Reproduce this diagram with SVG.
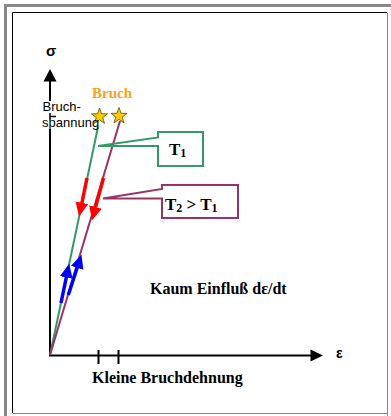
<svg xmlns="http://www.w3.org/2000/svg" width="391" height="416" viewBox="0 0 391 416">
<style>
.serif{font-family:"Liberation Serif","Times New Roman",serif;font-weight:bold;fill:#000}
.sans{font-family:"Liberation Sans",Arial,sans-serif;fill:#000}
.ax{stroke:#000;stroke-width:2;fill:none}
.grn{stroke:#339966;stroke-width:2;fill:none}
.mag{stroke:#993366;stroke-width:2;fill:none}
.red{stroke:#ff0000;stroke-width:3.5;fill:none}
.blu{stroke:#0000ff;stroke-width:3.5;fill:none}
.star{fill:#ffcc00;stroke:#5a4a00;stroke-width:0.8}
</style>
<defs>
<marker id="hr" viewBox="0 -7 15 14" refX="0.5" refY="0" markerWidth="15" markerHeight="14" markerUnits="userSpaceOnUse" orient="auto"><path d="M0,-6.5 L14,0 L0,6.5 Z" fill="#ff0000"/></marker>
<marker id="hb" viewBox="0 -7 15 14" refX="0.5" refY="0" markerWidth="15" markerHeight="14" markerUnits="userSpaceOnUse" orient="auto"><path d="M0,-6.5 L14,0 L0,6.5 Z" fill="#0000ff"/></marker>
<polygon id="st" points="0,-8.5 2,-2.75 8.08,-2.63 3.23,1.05 5,6.88 0,3.4 -5,6.88 -3.23,1.05 -8.08,-2.63 -2,-2.75"/>
</defs>
<g id="frame">
<path d="M5.5,416 V5.5 H391" stroke="#888" stroke-width="3" fill="none"/>
<path d="M12.5,413 V12.5 H387" stroke="#000" stroke-width="1" fill="none"/>
<path d="M387.5,13 V416 M13,413.5 H387" stroke="#888" stroke-width="1" fill="none"/>
</g>
<g id="axes">
<path class="ax" d="M50,80 V101 M50,129 V356.5 M49,355.5 H312"/>
<path d="M50,113 V120 M50,116.5 H56" stroke="#000" stroke-width="1.5"/>
<polygon points="50,69 43.5,81.5 56.5,81.5" fill="#000"/>
<polygon points="323,355.5 310.5,349.5 310.5,361.5" fill="#000"/>
<path class="ax" d="M98.5,350 V364 M118.5,350 V364"/>
<text class="sans" x="46" y="56" font-size="15" font-weight="bold">σ</text>
<text class="sans" x="336" y="358" font-size="14" font-weight="bold">ε</text>
</g>
<g id="curves">
<line class="grn" x1="50" y1="355" x2="98" y2="127"/>
<line class="mag" x1="50" y1="355" x2="120" y2="121"/>
</g>
<g id="stars">
<use href="#st" class="star" x="99.5" y="116.5"/>
<use href="#st" class="star" x="119" y="116"/>
</g>
<g id="connectors">
<line class="red" x1="87" y1="178" x2="81.8" y2="203.3" marker-end="url(#hr)"/>
<line class="red" x1="103.5" y1="178" x2="95.4" y2="207.5" marker-end="url(#hr)"/>
<line class="blu" x1="61" y1="303" x2="66.4" y2="277" marker-end="url(#hb)"/>
<line class="blu" x1="68.3" y1="295" x2="77.3" y2="267.3" marker-end="url(#hb)"/>
</g>
<g id="callout-T1">
<polygon class="grn" points="158,137.5 158,132 203,132 203,166 158,166 158,146 98,146"/>
<text class="serif" x="169" y="155" font-size="17">T<tspan font-size="12" dy="1.5">1</tspan></text>
</g>
<g id="callout-T2">
<polygon class="mag" points="162,189 162,185 238,185 238,218 162,218 162,198.5 103,198.5"/>
<text class="serif" x="165" y="210" font-size="17">T<tspan font-size="12" dy="1.5">2</tspan><tspan dy="-1.5"> &gt; T</tspan><tspan font-size="12" dy="1.5">1</tspan></text>
</g>
<g id="labels">
<text class="serif" x="92" y="97.5" font-size="15" fill="#ffa020" style="fill:#ffa020">Bruch</text>
<text class="sans" x="42.5" y="111" font-size="13">Bruch-</text>
<text class="sans" x="42" y="126.5" font-size="13">spannung</text>
<text class="serif" x="150" y="294" font-size="16">Kaum Einfluß dε/dt</text>
<text class="serif" x="92" y="382.5" font-size="16">Kleine Bruchdehnung</text>
</g>
</svg>
